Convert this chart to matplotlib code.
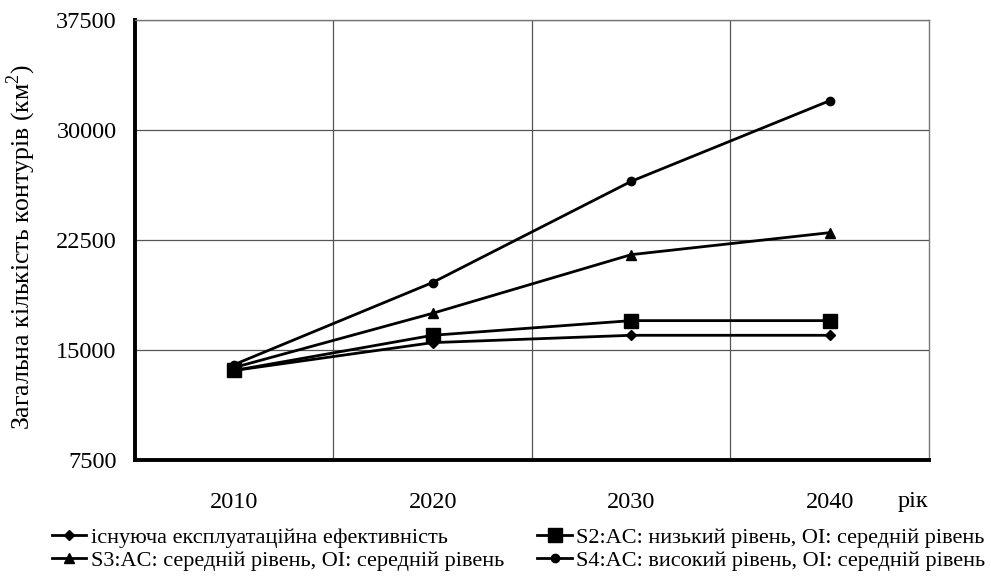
import matplotlib
matplotlib.use("Agg")
import matplotlib.pyplot as plt

plt.rcParams["font.family"] = ["Liberation Serif", "DejaVu Serif"]
plt.rcParams["mathtext.fontset"] = "custom"
plt.rcParams["mathtext.rm"] = "Liberation Serif"

years = ["2010", "2020", "2030", "2040"]
s1 = [13600, 15500, 16000, 16000]
s2 = [13600, 16000, 17000, 17000]
s3 = [13800, 17500, 21500, 23000]
s4 = [14000, 19600, 26500, 32000]
labels = [
    "існуюча експлуатаційна ефективність",
    "S2:AC: низький рівень, OI: середній рівень",
    "S3:AC: середній рівень, OI: середній рівень",
    "S4:AC: високий рівень, OI: середній рівень",
]
yticks = [7500, 15000, 22500, 30000, 37500]

fig = plt.figure(figsize=(9.91, 5.8), dpi=100)
ax = fig.add_axes([0.136, 0.207, 0.8015, 0.7585])

x = range(len(years))
l1, = ax.plot(x, s1, color="black", lw=2, marker="D", ms=5, label=labels[0], zorder=5)
l2, = ax.plot(x, s2, color="black", lw=2, marker="s", ms=9.5, label=labels[1], zorder=4)
l3, = ax.plot(x, s3, color="black", lw=2, marker="^", ms=7, label=labels[2], zorder=3)
l4, = ax.plot(x, s4, color="black", lw=2, marker="o", ms=6, label=labels[3], zorder=2)

ax.set_xlim(-0.5, 3.5)
ax.set_ylim(7500, 37500)
ax.set_xticks(list(x))
ax.set_xticklabels(years)
ax.set_xticks([0.5, 1.5, 2.5], minor=True)
ax.set_yticks(yticks)
ax.grid(False)
ax.grid(which="minor", axis="x", color="#555555", lw=0.9)
ax.grid(which="major", axis="y", color="#555555", lw=0.9)
ax.set_axisbelow(True)
ax.tick_params(which="both", length=0, labelsize=17.5)
ax.tick_params(axis="x", pad=23)
ax.tick_params(axis="y", pad=13)

for side in ["left", "bottom"]:
    ax.spines[side].set_linewidth(2.8)
    ax.spines[side].set_color("black")
for side in ["top", "right"]:
    ax.spines[side].set_linewidth(1)
    ax.spines[side].set_color("#777777")

ax.set_ylabel("Загальна кількість контурів (км$^2$)", fontsize=18.5)
ax.yaxis.set_label_coords(-0.122, 0.484)
fig.text(0.921, 0.135, "рік", fontsize=17.5, ha="center", va="center")

# legend goes row by row: s1, s2 / s3, s4
fig.legend([l1, l3, l2, l4], [labels[0], labels[2], labels[1], labels[3]],
           loc="upper left", bbox_to_anchor=(52 / 991, 1 - 527 / 580), ncol=2,
           frameon=False, fontsize=16, handlelength=1.55, handletextpad=0.2,
           columnspacing=1.5, labelspacing=0.12, borderpad=0, borderaxespad=0)

fig.savefig("out.png", dpi=100)
